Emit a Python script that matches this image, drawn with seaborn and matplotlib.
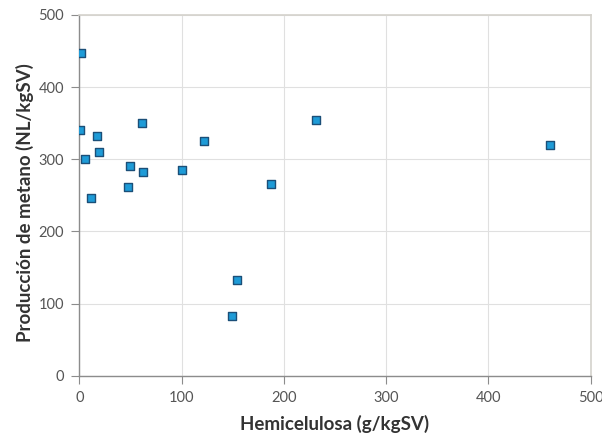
import matplotlib
matplotlib.use("Agg")
import matplotlib.pyplot as plt
import seaborn as sns
import pandas as pd

# Hemicellulose content vs. methane yield
hemicelulosa = [2, 1, 6, 11, 17.5, 19, 48, 50, 61, 62.5, 100.5, 122, 149.5, 154.5, 187, 231.5, 460.5]
metano = [447, 341, 301, 246, 332, 310, 261, 290, 350, 283, 285, 326, 83, 133, 266, 355, 320]

x_ticks = [0, 100, 200, 300, 400, 500]
y_ticks = [0, 100, 200, 300, 400, 500]

df = pd.DataFrame({"Hemicelulosa": hemicelulosa, "Metano": metano})

sns.set_theme(style="white")
plt.rcParams["font.family"] = ["Lato", "DejaVu Sans"]

fig = plt.figure(figsize=(6.02, 4.36), dpi=100)
ax = fig.add_axes([0.1317, 0.1383, 0.9812 - 0.1317, 0.9656 - 0.1383])

sns.scatterplot(data=df, x="Hemicelulosa", y="Metano", ax=ax, marker="s",
                s=40, color="#1e9bd7", edgecolor="#1b4f78", linewidth=1.0,
                zorder=3, legend=False)

ax.set_xlim(0, 500)
ax.set_ylim(0, 500)
ax.set_xticks(x_ticks)
ax.set_yticks(y_ticks)
ax.grid(True, color="#e0e0e0", linewidth=0.8, zorder=0)
ax.set_axisbelow(True)

for side in ("left", "bottom"):
    ax.spines[side].set_color("#8c8c8c")
    ax.spines[side].set_linewidth(1.0)
for side in ("top", "right"):
    ax.spines[side].set_color("#d4d2cc")
    ax.spines[side].set_linewidth(1.2)

ax.tick_params(axis="both", which="major", direction="out", length=6, width=0.8,
               color="#8c8c8c", labelsize=10.5, labelcolor="#555555", pad=5)
ax.tick_params(axis="x", bottom=True)
ax.tick_params(axis="y", left=True)

ax.set_xlabel("Hemicelulosa (g/kgSV)", fontsize=13.5, fontweight="bold",
              color="#333333", labelpad=7)
ax.set_ylabel("Producción de metano (NL/kgSV)", fontsize=13.5, fontweight="bold",
              color="#333333")
ax.yaxis.set_label_coords(-0.088, 0.48)

fig.savefig("out.png", dpi=100, facecolor="white")
